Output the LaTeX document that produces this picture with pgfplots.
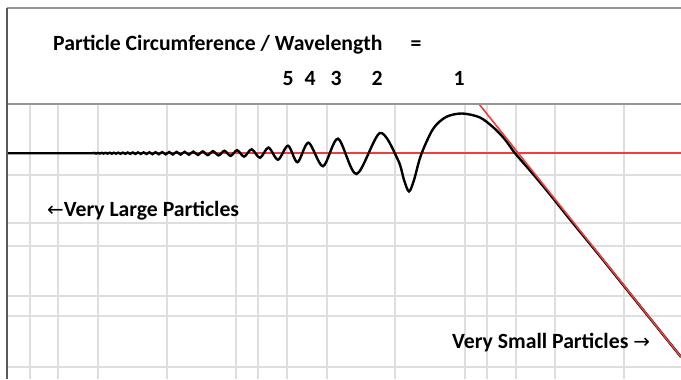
\documentclass[border=0pt]{standalone}
\usepackage{pgfplots}
\pgfplotsset{compat=1.18}
\usepackage{fontspec}
\setmainfont{Carlito}
\newfontfamily\arrowfont{DejaVu Sans}
\definecolor{gridgray}{RGB}{222,222,222}
\definecolor{redline}{RGB}{240,60,60}
\definecolor{framegray}{RGB}{150,150,150}
\definecolor{leftgray}{RGB}{90,90,90}
\begin{document}
\begin{tikzpicture}[x=1bp,y=1bp]
\begin{axis}[
  at={(7bp,0bp)}, anchor=south west,
  scale only axis, width=674bp, height=275bp,
  xmin=7, xmax=681, ymin=104, ymax=379, y dir=reverse,
  axis line style={draw=none},
  xtick={30,58,98,167,236,258,287,327,395,465,487,516,555,624},
  ytick={175,223,246,296,316,367},
  xticklabels={}, yticklabels={},
  major tick length=0pt,
  tick style={draw=none},
  grid=major,
  major grid style={gridgray, line width=1.4bp},
  clip=false,
]
\addplot[draw=redline, line width=2bp] coordinates {(7,153) (681,153)};
\addplot[black, line width=2.4bp, smooth, tension=0.5] table {
x y
7 153.2
60 153.2
92 153.2
94.2 152.9
96.0 153.5
97.9 152.9
99.8 153.5
101.6 152.85
103.6 153.55
105.6 152.8
107.6 153.6
109.7 152.75
111.8 153.65
113.9 152.7
116.1 153.7
118.3 152.65
120.6 153.75
122.9 152.6
125.3 153.8
127.7 152.55
130.2 153.85
132.8 152.5
135.4 153.9
138.0 152.45
140.8 153.95
143.6 152.4
146.5 154.05
149.4 152.3
152.5 154.15
155.6 152.2
158.8 154.25
162.2 152.1
165.6 154.35
169.2 152.0
172.8 154.45
176.6 151.9
180.6 154.55
184.6 151.8
188.9 154.7
193.3 151.6
197.9 154.9
202.7 151.4
207.7 155.1
213.0 151.2
218.6 155.4
224.4 150.8
230.6 155.9
237.1 150.2
244.1 156.6
251.6 149.3
260.0 157.8
268.5 147.6
278.0 159.7
288.0 145.7
297.5 162.2
308.5 142.7
323.0 166.2
338.0 138.7
356.5 174.0
380.0 133.0
398.0 160.0
404.0 180.0
409.0 191.5
414.0 180.0
421.0 155.0
433.0 129.0
446.0 117.0
462.0 113.5
480.0 117.5
494.0 128.0
505.0 139.5
515.0 153.2
533.0 174.0
550.0 194.5
570.0 219.5
600.0 256.2
640.0 306.0
681.0 357.0
};
\addplot[draw=redline, line width=1.6bp] coordinates {(479,104) (681,357)};
\draw[framegray, line width=1.6bp] (axis cs:7,104) -- (axis cs:681,104);
\draw[framegray, line width=1.4bp] (axis cs:7,8) -- (axis cs:681,8);
\draw[leftgray, line width=1.5bp] (axis cs:7,8) -- (axis cs:7,379);
\begin{scope}[every node/.style={inner sep=0pt, font=\fontsize{21.8}{24}\selectfont\bfseries, text=black}]
\node[anchor=base west] at (axis cs:53,50.5) {Particle Circumference / Wavelength};
\node[anchor=base] at (axis cs:416,50.5) {=};
\node[anchor=base] at (axis cs:288,86) {5};
\node[anchor=base] at (axis cs:310,86) {4};
\node[anchor=base] at (axis cs:336,86) {3};
\node[anchor=base] at (axis cs:377,86) {2};
\node[anchor=base] at (axis cs:459,86) {1};
\node[anchor=base west] at (axis cs:47,216) {{\arrowfont\mdseries\fontsize{20}{24}\selectfont ←}Very Large Particles};
\node[anchor=base west] at (axis cs:452,348) {Very Small Particles {\arrowfont\mdseries\fontsize{20}{24}\selectfont →}};
\end{scope}
\end{axis}
\pgfresetboundingbox
\path[use as bounding box] (0,0) rectangle (681,379);
\end{tikzpicture}
\end{document}
